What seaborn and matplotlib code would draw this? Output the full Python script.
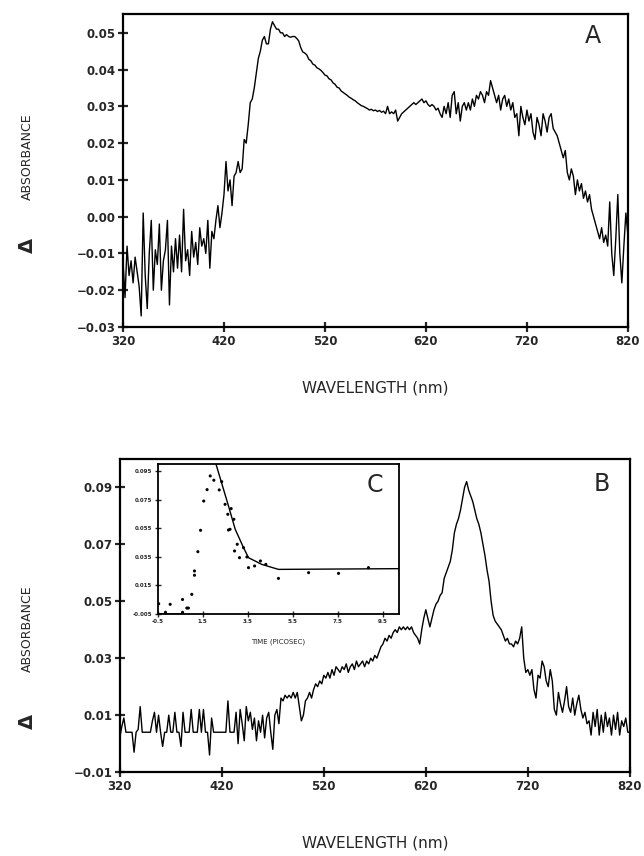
import numpy as np
import pandas as pd
import matplotlib
matplotlib.use('Agg')
import matplotlib.pyplot as plt
import seaborn as sns

# ---- panel A: transient spectrum (2 nm steps, 320-820 nm) ----
wl_a = list(range(320, 822, 2))
abs_a = [-0.012, -0.022, -0.008, -0.016, -0.012, -0.018, -0.011, -0.015, -0.019, -0.027,
         0.001, -0.016, -0.025, -0.010, -0.001, -0.020, -0.009, -0.013, -0.002, -0.020,
         -0.012, -0.009, -0.001, -0.024, -0.008, -0.015, -0.006, -0.014, -0.005, -0.015,
         0.002, -0.012, -0.009, -0.016, -0.004, -0.011, -0.007, -0.013, -0.003, -0.008,
         -0.006, -0.010, -0.001, -0.014, -0.004, -0.006, -0.001, 0.003, -0.003, 0.001,
         0.006, 0.015, 0.007, 0.010, 0.003, 0.011, 0.012, 0.015, 0.012, 0.013,
         0.021, 0.020, 0.025, 0.031, 0.032, 0.035, 0.039, 0.043, 0.045, 0.048,
         0.049, 0.047, 0.047, 0.051, 0.053, 0.052, 0.051, 0.051, 0.050, 0.050,
         0.049, 0.0495, 0.049, 0.0488, 0.049, 0.0490, 0.0485, 0.0478, 0.0460, 0.0448,
         0.0445, 0.0440, 0.0428, 0.0424, 0.0415, 0.0412, 0.0405, 0.0402, 0.0398, 0.0392,
         0.0385, 0.0383, 0.0375, 0.0372, 0.0364, 0.0360, 0.0352, 0.0350, 0.0342, 0.0338,
         0.0334, 0.0330, 0.0325, 0.0322, 0.0318, 0.0315, 0.0310, 0.0306, 0.0302, 0.0300,
         0.0297, 0.0294, 0.0290, 0.0292, 0.0288, 0.0290, 0.0286, 0.0289, 0.0284, 0.0287,
         0.0280, 0.030, 0.028, 0.0285, 0.028, 0.029, 0.026, 0.027, 0.028, 0.0285,
         0.029, 0.0295, 0.030, 0.0305, 0.031, 0.0305, 0.031, 0.0315, 0.032, 0.031,
         0.0315, 0.0305, 0.030, 0.0305, 0.030, 0.029, 0.0295, 0.028, 0.027, 0.030,
         0.028, 0.031, 0.027, 0.033, 0.034, 0.028, 0.031, 0.026, 0.030, 0.031,
         0.029, 0.031, 0.029, 0.032, 0.030, 0.033, 0.032, 0.034, 0.033, 0.031,
         0.034, 0.033, 0.037, 0.035, 0.033, 0.031, 0.033, 0.029, 0.032, 0.033,
         0.030, 0.032, 0.029, 0.031, 0.027, 0.028, 0.022, 0.030, 0.027, 0.025,
         0.029, 0.026, 0.028, 0.023, 0.021, 0.027, 0.025, 0.022, 0.028, 0.026,
         0.023, 0.027, 0.028, 0.024, 0.023, 0.022, 0.020, 0.018, 0.016, 0.018,
         0.012, 0.010, 0.013, 0.011, 0.006, 0.010, 0.007, 0.009, 0.005, 0.007,
         0.004, 0.006, 0.002, 0.000, -0.002, -0.004, -0.006, -0.003, -0.007, -0.005,
         -0.008, 0.004, -0.010, -0.016, -0.006, 0.006, -0.010, -0.018, -0.008, 0.001,
         -0.005]

# ---- panel B: transient spectrum (2 nm steps, 320-820 nm) ----
wl_b = list(range(320, 822, 2))
abs_b = [0.002, 0.006, 0.009, 0.004, 0.004, 0.004, 0.004, -0.003, 0.004, 0.005,
         0.013, 0.004, 0.004, 0.004, 0.004, 0.004, 0.008, 0.011, 0.004, 0.010,
         0.004, -0.001, 0.004, 0.004, 0.010, 0.004, 0.004, 0.011, 0.004, 0.004,
         -0.001, 0.011, 0.004, 0.004, 0.004, 0.012, 0.004, 0.004, 0.004, 0.012,
         0.004, 0.012, 0.004, 0.004, -0.004, 0.009, 0.004, 0.004, 0.004, 0.004,
         0.004, 0.004, 0.004, 0.015, 0.004, 0.004, 0.004, 0.011, 0.000, 0.012,
         0.007, 0.001, 0.013, 0.008, 0.011, 0.005, 0.009, 0.001, 0.008, 0.004,
         0.010, 0.002, 0.009, 0.011, 0.004, -0.002, 0.010, 0.012, 0.007, 0.016,
         0.015, 0.017, 0.016, 0.017, 0.016, 0.018, 0.016, 0.018, 0.013, 0.008,
         0.010, 0.015, 0.016, 0.018, 0.016, 0.019, 0.021, 0.020, 0.022, 0.021,
         0.024, 0.023, 0.025, 0.023, 0.026, 0.024, 0.027, 0.026, 0.025, 0.027,
         0.026, 0.028, 0.025, 0.027, 0.028, 0.026, 0.029, 0.027, 0.028, 0.029,
         0.027, 0.029, 0.028, 0.030, 0.029, 0.031, 0.030, 0.032, 0.034, 0.035,
         0.037, 0.036, 0.038, 0.037, 0.039, 0.040, 0.039, 0.041, 0.040, 0.041,
         0.040, 0.041, 0.040, 0.041, 0.039, 0.038, 0.037, 0.035, 0.040, 0.044,
         0.047, 0.044, 0.041, 0.044, 0.047, 0.049, 0.050, 0.052, 0.053, 0.058,
         0.060, 0.062, 0.064, 0.068, 0.074, 0.077, 0.079, 0.082, 0.086, 0.090,
         0.092, 0.089, 0.087, 0.085, 0.082, 0.079, 0.077, 0.074, 0.070, 0.066,
         0.061, 0.057, 0.050, 0.045, 0.043, 0.042, 0.041, 0.040, 0.038, 0.036,
         0.037, 0.035, 0.035, 0.034, 0.036, 0.035, 0.037, 0.041, 0.030, 0.025,
         0.026, 0.024, 0.026, 0.019, 0.016, 0.024, 0.023, 0.029, 0.027, 0.022,
         0.020, 0.026, 0.022, 0.012, 0.010, 0.018, 0.014, 0.011, 0.015, 0.020,
         0.013, 0.011, 0.016, 0.010, 0.014, 0.017, 0.012, 0.009, 0.011, 0.007,
         0.008, 0.003, 0.011, 0.006, 0.012, 0.003, 0.010, 0.004, 0.011, 0.006,
         0.009, 0.003, 0.010, 0.005, 0.011, 0.003, 0.008, 0.006, 0.009, 0.004,
         0.004]

# ---- inset C: kinetics (points + fitted curve) ----
t_pts = [-0.46, -0.16, 0.05, 0.6, 0.6, 0.79, 0.86, 1.01, 1.13, 1.13, 1.28, 1.4, 1.54,
         1.69, 1.83, 1.99, 2.23, 2.34, 2.49, 2.61, 2.76, 2.88, 2.64, 2.71, 2.91, 3.03,
         3.13, 3.31, 3.46, 3.53, 3.8, 4.06, 4.3, 4.86, 6.2, 7.53, 8.86]
a_pts = [0.002, -0.004, 0.0016, 0.005, -0.004, -0.001, -0.001, 0.0086, 0.025, 0.022,
         0.0385, 0.0535, 0.074, 0.082, 0.0916, 0.0886, 0.0818, 0.0876, 0.0717, 0.0647,
         0.0687, 0.0612, 0.0537, 0.0542, 0.039, 0.0437, 0.0343, 0.0413, 0.0348, 0.0273,
         0.0285, 0.032, 0.0296, 0.0198, 0.0238, 0.0233, 0.0273]
t_base = [-0.5, 0.6]
a_base = [-0.005, -0.005]
t_fit = [1.98, 2.08, 2.64, 2.94, 3.31, 3.53, 4.12, 4.86, 10.2]
a_fit = [0.104, 0.1002, 0.0706, 0.0542, 0.0413, 0.0343, 0.0296, 0.0261, 0.0266]

ticks_a = [-0.03, -0.02, -0.01, 0.00, 0.01, 0.02, 0.03, 0.04, 0.05]
ticks_b = [-0.01, 0.01, 0.03, 0.05, 0.07, 0.09]
ticks_x = [320, 420, 520, 620, 720, 820]
ticks_cy = [-0.005, 0.015, 0.035, 0.055, 0.075, 0.095]
ticks_cx = [-0.5, 1.5, 3.5, 5.5, 7.5, 9.5]

sns.set_style('ticks')
plt.rcParams['font.family'] = ['DejaVu Sans']

fig = plt.figure(figsize=(6.44, 8.56), dpi=100)
ax_a = fig.add_axes([0.191, 0.618, 0.784, 0.366])
ax_b = fig.add_axes([0.186, 0.098, 0.792, 0.366])
ax_c = fig.add_axes([0.245, 0.283, 0.374, 0.175])

df_a = pd.DataFrame({'wl': wl_a, 'abs': abs_a})
df_b = pd.DataFrame({'wl': wl_b, 'abs': abs_b})
sns.lineplot(data=df_a, x='wl', y='abs', ax=ax_a, color='black', lw=1.0, estimator=None)
sns.lineplot(data=df_b, x='wl', y='abs', ax=ax_b, color='black', lw=1.0, estimator=None)
sns.scatterplot(x=t_pts, y=a_pts, ax=ax_c, color='black', s=5, edgecolor='none')
sns.lineplot(x=t_base, y=a_base, ax=ax_c, color='black', lw=1.2, estimator=None)
sns.lineplot(x=t_fit, y=a_fit, ax=ax_c, color='black', lw=1.0, estimator=None, sort=False)


def style_axis(ax, yticks, ylim, xpad, fs=8.5, lw=1.6, tl=7):
    ax.set_xlim(320, 820)
    ax.set_ylim(*ylim)
    ax.set_xticks(ticks_x)
    ax.set_xticklabels([str(t) for t in ticks_x])
    ax.set_yticks(yticks)
    ax.set_yticklabels([f'{v:.2f}'.replace('-', '\u2212') for v in yticks])
    for s in ax.spines.values():
        s.set_linewidth(lw)
        s.set_color('black')
    ax.tick_params(direction='inout', length=tl, width=lw, labelsize=fs, pad=2)
    for lab in ax.get_xticklabels() + ax.get_yticklabels():
        lab.set_fontweight('bold')
    ax.set_xlabel('WAVELENGTH (nm)', fontsize=11, labelpad=xpad)
    ax.set_ylabel('')


style_axis(ax_a, ticks_a, (-0.03, 0.0552), 24)
style_axis(ax_b, ticks_b, (-0.01, 0.10), 31)

ax_a.text(0.93, 0.93, 'A', transform=ax_a.transAxes, fontsize=17, ha='center', va='center')
ax_b.text(0.945, 0.92, 'B', transform=ax_b.transAxes, fontsize=17, ha='center', va='center')

# inset formatting
ax_c.set_xlim(-0.5, 10.2)
ax_c.set_ylim(-0.005, 0.1)
ax_c.set_xticks(ticks_cx)
ax_c.set_xticklabels([str(t) for t in ticks_cx])
ax_c.set_yticks(ticks_cy)
ax_c.set_yticklabels([f'{v:.3f}' for v in ticks_cy])
for s in ax_c.spines.values():
    s.set_linewidth(1.3)
    s.set_color('black')
ax_c.tick_params(direction='inout', length=4, width=1.0, labelsize=4, pad=2)
for lab in ax_c.get_xticklabels() + ax_c.get_yticklabels():
    lab.set_fontweight('bold')
ax_c.set_xlabel('TIME (PICOSEC)', fontsize=5, labelpad=10)
ax_c.set_ylabel('')
ax_c.text(0.9, 0.86, 'C', transform=ax_c.transAxes, fontsize=17, ha='center', va='center')

# y labels with delta sign
for ax, yc, yd in [(ax_a, 0.543, 0.26), (ax_b, 0.459, 0.163)]:
    pos = ax.get_position()
    fig.text(0.042, pos.y0 + yc * pos.height, 'ABSORBANCE', rotation=90,
             fontsize=9, ha='center', va='center')
    fig.text(0.042, pos.y0 + yd * pos.height, '\u0394', rotation=90,
             fontsize=14, fontweight='bold', ha='center', va='center')

fig.savefig('out.png', dpi=100, facecolor='white')
